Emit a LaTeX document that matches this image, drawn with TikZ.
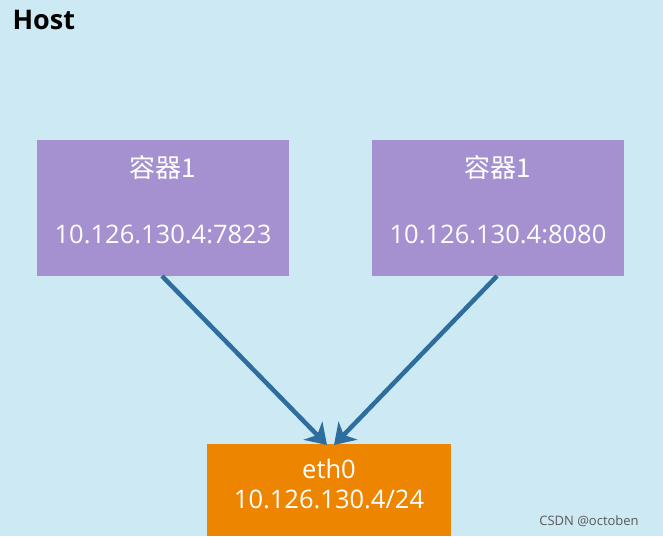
\documentclass[tikz,border=0pt]{standalone}
\usepackage{fontspec}
\setmainfont{Open Sans}
\newfontfamily\cjk{Noto Sans CJK SC}
\usetikzlibrary{arrows.meta}
\definecolor{bg}{HTML}{CDE9F4}
\definecolor{purp}{HTML}{A590D0}
\definecolor{orng}{HTML}{EE8500}
\definecolor{arr}{HTML}{2E6E9E}
\tikzset{
 cbox/.style={fill=purp,draw=none,minimum width=252pt,minimum height=136pt,anchor=north west,inner sep=0pt},
 obox/.style={fill=orng,draw=none,minimum width=244pt,minimum height=92pt,anchor=north west,inner sep=0pt},
 lbl/.style={text=white,font=\fontsize{25.5}{28}\selectfont},
 conn/.style={draw=arr,line width=4.5pt,-{Stealth[length=20pt,width=26pt,inset=6pt]}}
}
\begin{document}
\begin{tikzpicture}[x=1pt,y=-1pt]
\fill[bg] (0,0) rectangle (663,536);
\useasboundingbox (0,0) rectangle (663,536);
\node[anchor=west,font=\bfseries\fontsize{27}{30}\selectfont] (host) at (9,20) {Host};
\node[cbox] (c1) at (37,140) {};
\node[cbox] (c2) at (372,140) {};
\node[obox] (e) at (207,444) {};
\node[lbl,font=\cjk\fontsize{26}{28}\selectfont] (c1t) at (163,168) {容器1};
\node[lbl] (c1a) at (163,234) {10.126.130.4:7823};
\node[lbl,font=\cjk\fontsize{26}{28}\selectfont] (c2t) at (498,168) {容器1};
\node[lbl] (c2a) at (498,234) {10.126.130.4:8080};
\node[lbl] (et) at (329,469) {eth0};
\node[lbl] (ea) at (329,499) {10.126.130.4/24};
\node[text=gray!70!black,font=\fontsize{13}{14}\selectfont] (wm) at (589,521) {CSDN @octoben};
\coordinate (s1) at (162,276);
\coordinate (s2) at (497,276);
\coordinate (t1) at (327,445);
\coordinate (t2) at (334,445);
\draw[conn] (s1) -- (t1);
\draw[conn] (s2) -- (t2);
\end{tikzpicture}
\end{document}
